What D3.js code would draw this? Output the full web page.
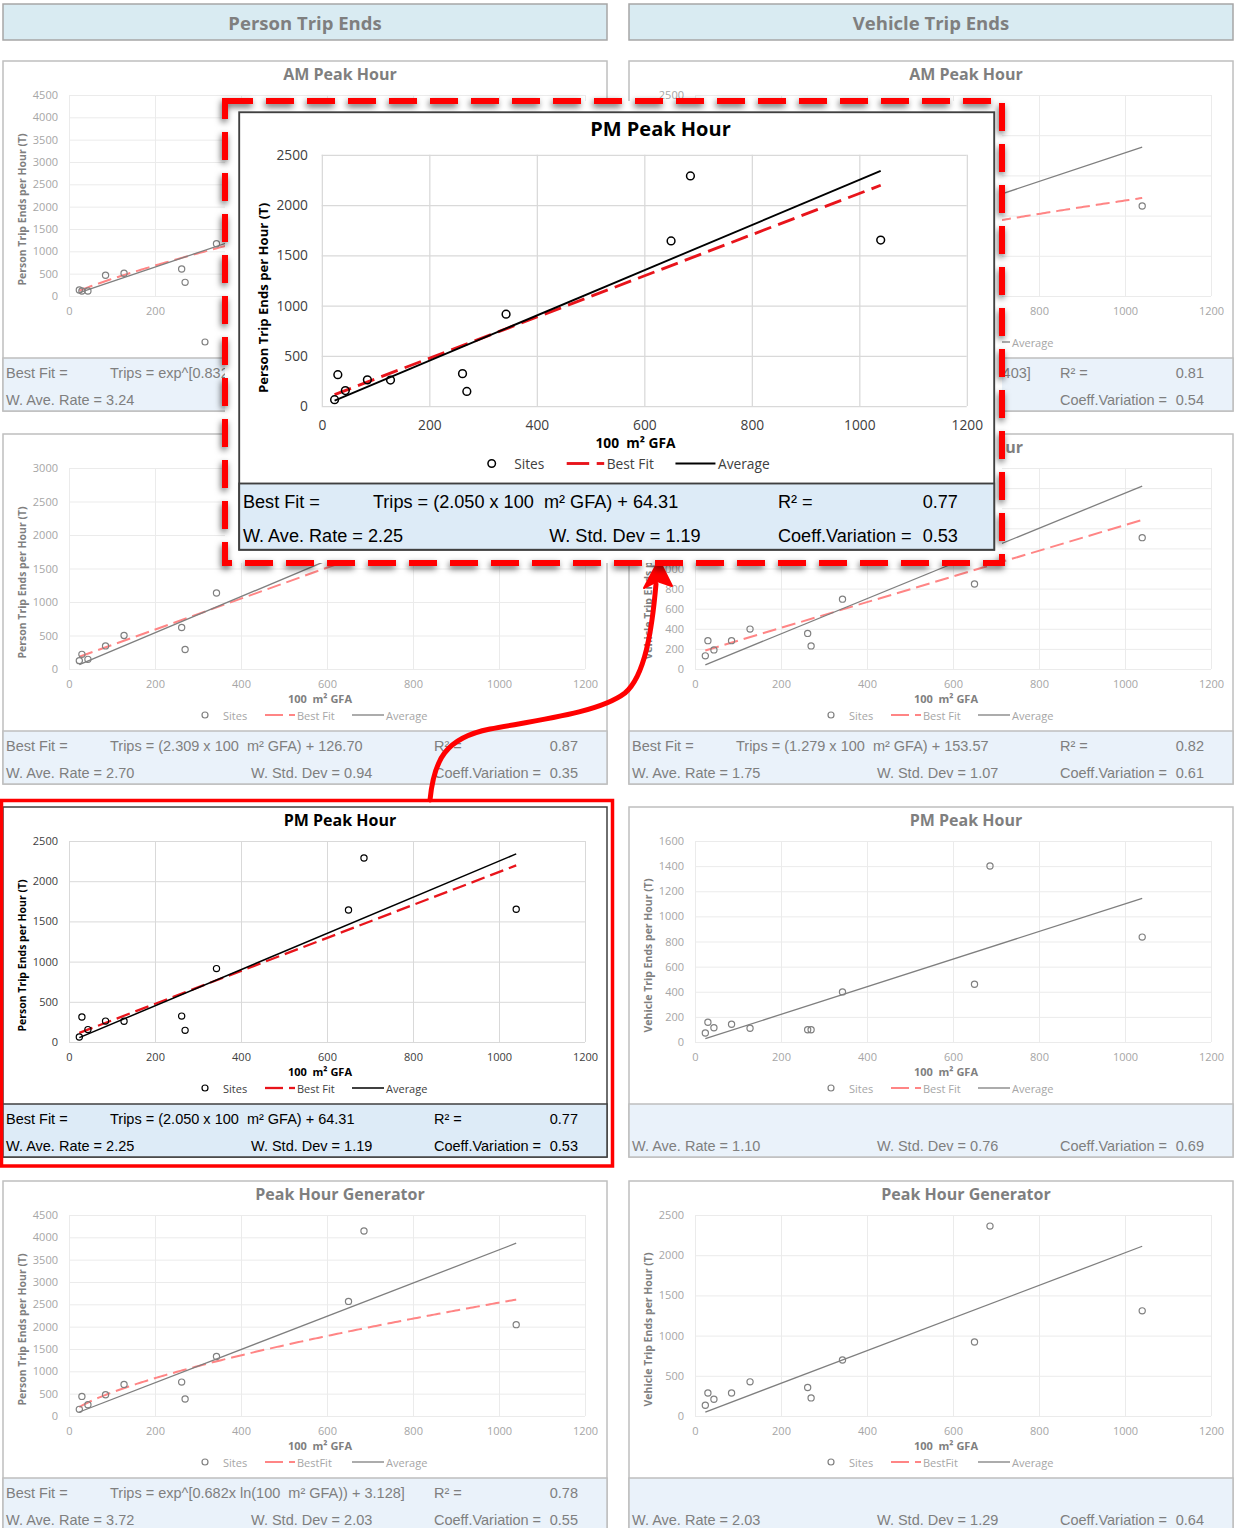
<!DOCTYPE html>
<html>
<head>
<meta charset="utf-8">
<script src="https://cdn.jsdelivr.net/npm/d3@7"></script>
<style>
  html, body { margin: 0; padding: 0; background: #fff; }
  svg { display: block; }
  text { white-space: pre; }
</style>
</head>
<body>
<svg id="chart" width="1234" height="1528"></svg>
<script>
// ---- Survey data -------------------------------------------------------
// Site size, 100 m² GFA (same sites in every panel)
const gfa = [24, 30, 44, 85, 128, 262, 270, 343, 650, 686, 1040];

// Observed trip ends per hour at each site
const personAM  = [134, 112, 112, 463, 508, 604, 306, 1171, 2450, 3780, 1900];
const personMD  = [125, 219, 144, 345, 500, 620, 290, 1134, 1750, 2300, 2190];
const personPM  = [63, 311, 154, 260, 258, 322, 145, 913, 1642, 2289, 1651];
const personPHG = [149, 439, 253, 476, 707, 759, 379, 1331, 2566, 4143, 2045];
const vehicleAM  = [90, 75, 70, 300, 320, 380, 180, 720, 1250, 1836, 1119];
const vehicleMD  = [131, 282, 190, 282, 397, 354, 230, 695, 846, 1520, 1307];
const vehiclePM  = [72, 157, 114, 141, 109, 98, 98, 399, 460, 1401, 835];
const vehiclePHG = [133, 287, 208, 287, 425, 354, 225, 696, 921, 2362, 1308];

// Axis ticks
const xTicks = [0, 200, 400, 600, 800, 1000, 1200];
const yTicks4500 = [0, 500, 1000, 1500, 2000, 2500, 3000, 3500, 4000, 4500];
const yTicks3000 = [0, 500, 1000, 1500, 2000, 2500, 3000];
const yTicks2500 = [0, 500, 1000, 1500, 2000, 2500];
const yTicks2000 = [0, 200, 400, 600, 800, 1000, 1200, 1400, 1600, 1800, 2000];
const yTicks1600 = [0, 200, 400, 600, 800, 1000, 1200, 1400, 1600];

// Labels
const columnTitles = ["Person Trip Ends", "Vehicle Trip Ends"];
const rowTitles = ["AM Peak Hour", "MD Peak Hour", "PM Peak Hour", "Peak Hour Generator"];
const yAxisTitles = ["Person Trip Ends per Hour (T)", "Vehicle Trip Ends per Hour (T)"];
const fitLegendNames = ["Best Fit", "Best Fit", "Best Fit", "BestFit"];

// Regression statistics, panel order: P-AM, V-AM, P-MD, V-MD, P-PM, V-PM, P-PHG, V-PHG
const fitKind      = ["exp", "exp", "linear", "linear", "linear", "none", "exp", "none"];
const fitSlope     = [0.832, 0.677, 2.309, 1.279, 2.050, null, 0.682, null];
const fitIntercept = [2.116, 2.403, 126.70, 153.57, 64.31, null, 3.128, null];
const rSquared     = ["0.79", "0.81", "0.87", "0.82", "0.77", "", "0.78", ""];
const aveRate      = [3.24, 1.78, 2.70, 1.75, 2.25, 1.10, 3.72, 2.03];
const stdDev       = ["1.52", "0.96", "0.94", "1.07", "1.19", "0.76", "2.03", "1.29"];
const coeffVar     = ["0.47", "0.54", "0.35", "0.61", "0.53", "0.69", "0.55", "0.64"];

const seriesByPanel = [personAM, vehicleAM, personMD, vehicleMD, personPM, vehiclePM, personPHG, vehiclePHG];
const ticksByPanel  = [yTicks4500, yTicks2500, yTicks3000, yTicks2000, yTicks2500, yTicks1600, yTicks4500, yTicks2500];

// ---- Layout -------------------------------------------------------------
const chartFont = "'Open Sans', 'Noto Sans', 'DejaVu Sans', sans-serif";
const statFont = "'Liberation Sans', Arial, sans-serif";
const colX = [3, 629];
const rowY = [61, 434, 807, 1181];
const zoomBox = { x: 225, y: 101, w: 777, h: 462 };

const panels = seriesByPanel.map((vals, i) => {
  const row = Math.floor(i / 2), col = i % 2;
  return {
    row, col,
    title: rowTitles[row],
    yTitle: yAxisTitles[col],
    fitName: fitLegendNames[row],
    values: vals,
    ticks: ticksByPanel[i],
    fit: { kind: fitKind[i], b: fitSlope[i], a: fitIntercept[i] },
    r2: rSquared[i], rate: aveRate[i], sd: stdDev[i], cv: coeffVar[i]
  };
});

function fitLabel(f) {
  if (f.kind === "linear") return `Trips = (${f.b.toFixed(3)} x 100  m² GFA) + ${f.a.toFixed(2)}`;
  if (f.kind === "exp") return `Trips = exp^[${f.b.toFixed(3)}x ln(100  m² GFA)) + ${f.a.toFixed(3)}]`;
  return "";
}

const svg = d3.select("#chart");
const defs = svg.append("defs");
const sh = defs.append("filter").attr("id", "popShadow")
  .attr("x", "-10%").attr("y", "-10%").attr("width", "120%").attr("height", "120%");
sh.append("feDropShadow").attr("dx", -1).attr("dy", 3).attr("stdDeviation", 3)
  .attr("flood-color", "#000").attr("flood-opacity", 0.6);

// Column headers
columnTitles.forEach((t, i) => {
  svg.append("rect").attr("x", colX[i]).attr("y", 4).attr("width", 604).attr("height", 36)
    .attr("fill", "#d9ebf2").attr("stroke", "#a6a6a6").attr("stroke-width", 1.5);
  svg.append("text").attr("x", colX[i] + 302).attr("y", 22)
    .attr("text-anchor", "middle").attr("dominant-baseline", "central")
    .attr("font-family", chartFont).attr("font-weight", 700).attr("font-size", 18.5)
    .attr("fill", "#7f7f7f").text(t);
});

// One scatter panel drawn in local coordinates (604 x 350)
function drawPanel(g, p, hl) {
  const W = 604, H = 350, PX0 = 66, PX1 = 582, PY0 = 34, PY1 = 235;
  const C = hl
    ? { title: "#000", tick: "#404040", axisTitle: "#000", grid: "#d9d9d9", border: "#404040",
        pt: "#000", avg: "#000", fit: "#e8141b", stat: "#000", statFill: "#ddebf7",
        fitW: 2.3, avgW: 1.5, legend: "#404040" }
    : { title: "#7f7f7f", tick: "#a6a6a6", axisTitle: "#7f7f7f", grid: "#ebebeb", border: "#bfbfbf",
        pt: "#808080", avg: "#7f7f7f", fit: "#ff8585", stat: "#7f7f7f", statFill: "#eaf2fa",
        fitW: 2, avgW: 1.3, legend: "#a6a6a6" };

  g.append("rect").attr("width", W).attr("height", H)
    .attr("fill", "#fff").attr("stroke", C.border).attr("stroke-width", 1.5);

  const x = d3.scaleLinear().domain([0, xTicks[xTicks.length - 1]]).range([PX0, PX1]);
  const y = d3.scaleLinear().domain([0, p.ticks[p.ticks.length - 1]]).range([PY1, PY0]);

  const yAx = g.append("g").attr("transform", `translate(${PX0},0)`)
    .call(d3.axisLeft(y).tickValues(p.ticks).tickSize(-(PX1 - PX0)).tickPadding(11).tickFormat(d3.format("d")));
  yAx.select(".domain").remove();
  yAx.selectAll("line").attr("stroke", C.grid).attr("stroke-width", 1);
  yAx.selectAll("text").attr("fill", C.tick).attr("font-size", 11).attr("font-family", chartFont);

  const xAx = g.append("g").attr("transform", `translate(0,${PY1})`)
    .call(d3.axisBottom(x).tickValues(xTicks).tickSize(-(PY1 - PY0)).tickPadding(11).tickFormat(d3.format("d")));
  xAx.select(".domain").remove();
  xAx.selectAll("line").attr("stroke", C.grid).attr("stroke-width", 1);
  xAx.selectAll("text").attr("fill", C.tick).attr("font-size", 11).attr("font-family", chartFont);

  g.append("text").attr("x", 337).attr("y", 13)
    .attr("text-anchor", "middle").attr("dominant-baseline", "central")
    .attr("font-family", chartFont).attr("font-weight", 700).attr("font-size", 16)
    .attr("fill", C.title).text(p.title);

  g.append("text").attr("transform", `translate(19,${(PY0 + PY1) / 2 + 14}) rotate(-90)`)
    .attr("text-anchor", "middle").attr("dominant-baseline", "central")
    .attr("font-family", chartFont).attr("font-weight", 700).attr("font-size", 10.5)
    .attr("fill", C.axisTitle).text(p.yTitle);

  g.append("text").attr("x", 317).attr("y", 264)
    .attr("text-anchor", "middle").attr("dominant-baseline", "central")
    .attr("font-family", chartFont).attr("font-weight", 700).attr("font-size", 11)
    .attr("fill", C.axisTitle).text("100  m² GFA");

  const line = d3.line().x(d => x(d[0])).y(d => y(d[1]));
  const [xmin, xmax] = d3.extent(gfa);

  if (p.fit.kind !== "none") {
    let pts;
    if (p.fit.kind === "linear") {
      pts = [xmin, xmax].map(v => [v, p.fit.b * v + p.fit.a]);
    } else {
      const xs = d3.range(xmin, xmax, 5).concat([xmax]);
      pts = xs.map(v => [v, Math.exp(p.fit.b * Math.log(v) + p.fit.a)]);
    }
    g.append("path").attr("d", line(pts)).attr("fill", "none")
      .attr("stroke", C.fit).attr("stroke-width", C.fitW).attr("stroke-dasharray", "14,6");
  }

  g.append("path").attr("d", line([xmin, xmax].map(v => [v, p.rate * v])))
    .attr("fill", "none").attr("stroke", C.avg).attr("stroke-width", C.avgW);

  g.append("g").selectAll("circle")
    .data(gfa.map((v, i) => [v, p.values[i]]))
    .join("circle")
    .attr("cx", d => x(d[0])).attr("cy", d => y(d[1])).attr("r", 3.1)
    .attr("fill", "none").attr("stroke", C.pt).attr("stroke-width", 1.2);

  // Legend
  const LY = 281;
  const lg = g.append("g").attr("font-family", chartFont).attr("font-size", 11).attr("fill", C.legend);
  lg.append("circle").attr("cx", 202).attr("cy", LY).attr("r", 3)
    .attr("fill", "none").attr("stroke", C.pt).attr("stroke-width", 1.2);
  lg.append("text").attr("x", 220).attr("y", LY).attr("dominant-baseline", "central").text("Sites");
  lg.append("line").attr("x1", 262).attr("x2", 280).attr("y1", LY).attr("y2", LY)
    .attr("stroke", C.fit).attr("stroke-width", C.fitW);
  lg.append("line").attr("x1", 286).attr("x2", 292).attr("y1", LY).attr("y2", LY)
    .attr("stroke", C.fit).attr("stroke-width", C.fitW);
  lg.append("text").attr("x", 294).attr("y", LY).attr("dominant-baseline", "central").text(p.fitName);
  lg.append("line").attr("x1", 349).attr("x2", 381).attr("y1", LY).attr("y2", LY)
    .attr("stroke", C.avg).attr("stroke-width", C.avgW);
  lg.append("text").attr("x", 383).attr("y", LY).attr("dominant-baseline", "central").text("Average");

  // Statistics box
  g.append("rect").attr("x", 0).attr("y", 297).attr("width", W).attr("height", H - 297)
    .attr("fill", C.statFill).attr("stroke", C.border).attr("stroke-width", 1.5);
  const st = g.append("g").attr("font-family", statFont).attr("font-size", 14.5).attr("fill", C.stat);
  const R1 = 312, R2 = 339;
  const stat = (tx, ty, s, anchor) => st.append("text").attr("x", tx).attr("y", ty)
    .attr("text-anchor", anchor || "start").attr("dominant-baseline", "central").text(s);
  if (p.fit.kind !== "none") {
    stat(3, R1, "Best Fit =");
    stat(107, R1, fitLabel(p.fit));
    stat(431, R1, "R² =");
    stat(575, R1, p.r2, "end");
  }
  stat(3, R2, `W. Ave. Rate = ${p.rate.toFixed(2)}`);
  stat(248, R2, `W. Std. Dev = ${p.sd}`);
  stat(431, R2, "Coeff.Variation =");
  stat(575, R2, p.cv, "end");
}

const panelLayer = svg.append("g");
panels.forEach(p => {
  const g = panelLayer.append("g").attr("transform", `translate(${colX[p.col]},${rowY[p.row]})`);
  drawPanel(g, p, p.row === 2 && p.col === 0);
});

// Labels lying wholly under the enlarged view are never seen; drop them
panelLayer.selectAll("text").each(function () {
  const r = this.getBoundingClientRect();
  if (r.left >= zoomBox.x && r.right <= zoomBox.x + zoomBox.w &&
      r.top >= zoomBox.y && r.bottom <= zoomBox.y + zoomBox.h) {
    d3.select(this).remove();
  }
});

// Highlight frame around the person-trip PM panel
svg.append("rect").attr("x", 1.5).attr("y", 800.5).attr("width", 611).attr("height", 365.5)
  .attr("fill", "none").attr("stroke", "#ff0000").attr("stroke-width", 3.5);

// Curved pointer from the highlighted panel to the enlarged view
svg.append("path")
  .attr("d", "M430,800 C434,760 445,738 490,729 C545,719 600,712 625,693 C645,676 652,630 656,584")
  .attr("fill", "none").attr("stroke", "#ff0000").attr("stroke-width", 5).attr("stroke-linecap", "round");
svg.append("path")
  .attr("d", "M659,560 L644,588 L657,581 L672,586 Z")
  .attr("fill", "#ff0000").attr("stroke", "#ff0000").attr("stroke-width", 2).attr("stroke-linejoin", "round");

// Enlarged view of the PM person-trip panel
svg.append("rect").attr("x", zoomBox.x).attr("y", zoomBox.y).attr("width", zoomBox.w).attr("height", zoomBox.h)
  .attr("fill", "#fff");
svg.append("rect").attr("x", zoomBox.x).attr("y", zoomBox.y).attr("width", zoomBox.w).attr("height", zoomBox.h)
  .attr("fill", "none").attr("stroke", "#ff0000").attr("stroke-width", 6)
  .attr("stroke-dasharray", "28,13").attr("filter", "url(#popShadow)");
const zoomG = svg.append("g").attr("transform", "translate(239.2,112.25) scale(1.25)");
drawPanel(zoomG, panels[4], true);
</script>
</body>
</html>
